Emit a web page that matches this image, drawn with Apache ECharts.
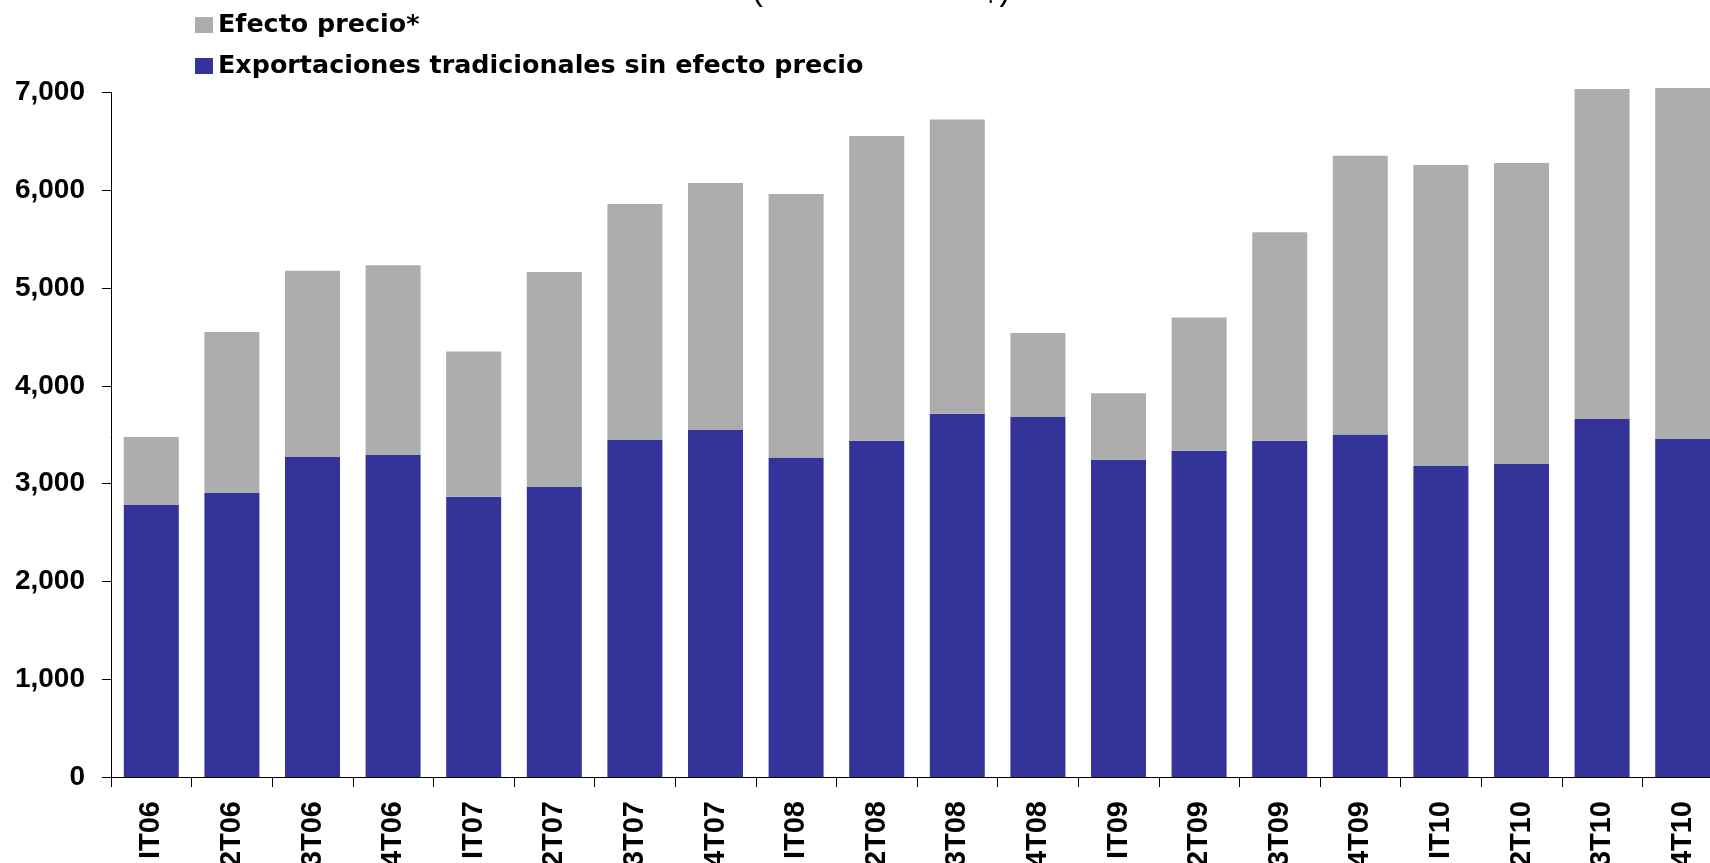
<!DOCTYPE html>
<html>
<head>
<meta charset="utf-8">
<script src="https://cdn.jsdelivr.net/npm/echarts@6/dist/echarts.min.js"></script>
<style>
html,body{margin:0;padding:0;background:#fff;}
#chart{width:1710px;height:863px;}
</style>
</head>
<body>
<div id="chart"></div>
<script>
const categories = ["IT06","2T06","3T06","4T06","IT07","2T07","3T07","4T07","IT08","2T08","3T08","4T08","IT09","2T09","3T09","4T09","IT10","2T10","3T10","4T10"];
const sinEfecto = [2781,2904,3272,3292,2865,2965,3447,3548,3268,3437,3715,3682,3245,3335,3437,3503,3180,3200,3660,3456];
const efectoPrecio = [695,1646,1905,1941,1485,2199,2412,2526,2693,3118,3007,858,680,1363,2133,2850,3078,3078,3375,3589];
const yTicks = [0,1000,2000,3000,4000,5000,6000,7000];
const titleText = "(Millones de US$)";
const nameEfecto = "Efecto precio*";
const nameSin = "Exportaciones tradicionales sin efecto precio";

const chart = echarts.init(document.getElementById('chart'));
const FONT = "'Liberation Sans', Arial, sans-serif";
chart.setOption({
  animation: false,
  backgroundColor: '#ffffff',
  title: {
    text: titleText,
    left: 752,
    top: -25,
    padding: 0,
    textStyle: {fontFamily: FONT, fontSize: 32.5, fontWeight: 'normal', color: '#000'}
  },
  legend: {
    orient: 'vertical',
    left: 195,
    top: 11,
    padding: 0,
    itemGap: 13,
    itemWidth: 18,
    itemHeight: 16,
    icon: 'rect',
    data: [nameEfecto, nameSin],
    textStyle: {fontFamily: "'DejaVu Sans', sans-serif", fontSize: 25.4, fontWeight: 'bold', color: '#000', lineHeight: 28}
  },
  grid: {left: 111, top: 92.4, width: 1612, height: 684.6, containLabel: false, outerBoundsMode: 'none'},
  xAxis: {
    type: 'category',
    data: categories,
    axisLine: {lineStyle: {color: '#000', width: 1}},
    axisTick: {show: true, length: 10, lineStyle: {color: '#000'}},
    axisLabel: {rotate: 90, margin: 24, fontFamily: FONT, fontSize: 29, fontWeight: 'bold', color: '#000'}
  },
  yAxis: {
    type: 'value',
    min: yTicks[0],
    max: yTicks[yTicks.length - 1],
    interval: 1000,
    splitLine: {show: false},
    axisLine: {show: true, lineStyle: {color: '#000', width: 1}},
    axisTick: {show: true, length: 9, lineStyle: {color: '#000'}},
    axisLabel: {
      margin: 26, fontFamily: FONT, fontSize: 28, fontWeight: 'bold', color: '#000',
      formatter: v => v.toLocaleString('en-US')
    }
  },
  series: [
    {name: nameSin, type: 'bar', stack: 'total', data: sinEfecto, barWidth: 55, clip: false, itemStyle: {color: '#333399'}},
    {name: nameEfecto, type: 'bar', stack: 'total', data: efectoPrecio, barWidth: 55, clip: false, itemStyle: {color: '#adadad'}}
  ]
});
</script>
</body>
</html>
